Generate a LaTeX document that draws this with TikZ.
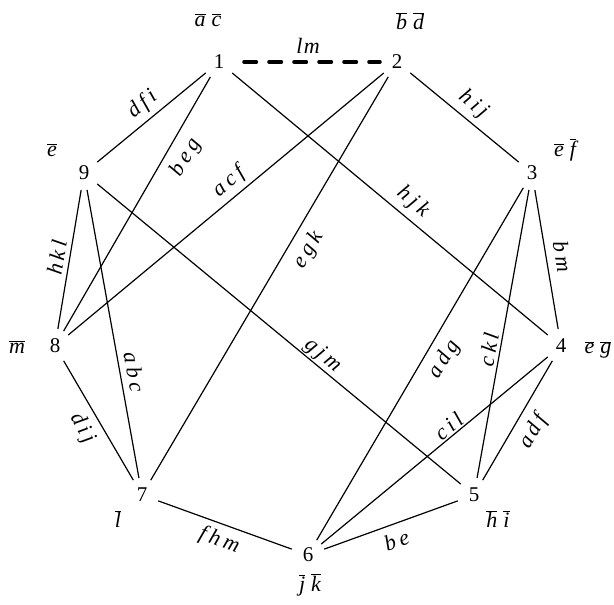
\documentclass[tikz,border=0pt]{standalone}
\usepackage{fontspec}
\setmainfont{Liberation Serif}
\newcommand\ob[1]{$\overline{\mbox{\itshape #1}}$}
\newcommand\lsp{\kern4pt}
\newcommand\bsp{\kern6pt}
\begin{document}
\begin{tikzpicture}[x=1pt,y=-1pt,
  num/.style={circle,minimum size=34pt,inner sep=0pt,font=\fontsize{21}{21}\selectfont},
  lab/.style={font=\fontsize{22}{22}\selectfont\itshape, inner sep=0pt},
  barlab/.style={font=\fontsize{22}{22}\selectfont, inner sep=0pt},
  edge/.style={line width=1.2pt},
  dashedge/.style={line width=4pt, dash pattern=on 12pt off 13pt, line cap=round}]
\useasboundingbox (0,0) rectangle (614,605);
% vertices
\node[num] (n1) at (219,62) {1};
\node[num] (n2) at (397,62) {2};
\node[num] (n3) at (532,173) {3};
\node[num] (n4) at (561,346) {4};
\node[num] (n5) at (474,495) {5};
\node[num] (n6) at (308,555) {6};
\node[num] (n7) at (142,495) {7};
\node[num] (n8) at (55,346) {8};
\node[num] (n9) at (84,173) {9};
% vertex labels
\node[barlab] (b1) at (208,20) {\ob{a}\bsp\ob{c}};
\node[barlab] (b2) at (410,21) {\ob{b}\bsp\ob{d}};
\node[barlab] (b3) at (565,150) {\ob{e}\bsp\ob{f}};
\node[barlab] (b4) at (598,350) {\ob{e}\bsp\ob{g}};
\node[barlab] (b5) at (498,519) {\ob{h}\bsp\ob{i}};
\node[barlab] (b6) at (310,585) {\ob{j}\bsp\ob{k}};
\node[barlab] (b7) at (118,519) {\ob{l}};
\node[barlab] (b8) at (17,347) {\ob{m}};
\node[barlab] (b9) at (52,150) {\ob{e}};
% edges
\draw[dashedge, shorten <=8pt] (n1) -- node[lab,above=7pt]{l\kern1.5pt m} (n2);
\draw[edge] (n2) -- node[lab,sloped,above=5pt,pos=0.49]{h\lsp i\lsp j} (n3);
\draw[edge] (n3) -- node[lab,sloped,above=8pt,pos=0.50]{b\lsp m} (n4);
\draw[edge] (n5) -- node[lab,sloped,below=9pt,pos=0.49]{a\lsp d\lsp f} (n4);
\draw[edge] (n6) -- node[lab,sloped,below=8pt,pos=0.50]{b\lsp e} (n5);
\draw[edge] (n7) -- node[lab,sloped,below=6pt,pos=0.50]{f\lsp h\lsp m} (n6);
\draw[edge] (n8) -- node[lab,sloped,below=7pt,pos=0.49]{d\lsp i\lsp j} (n7);
\draw[edge] (n8) -- node[lab,sloped,above=4.7pt,pos=0.50]{h\lsp k\lsp l} (n9);
\draw[edge] (n9) -- node[lab,sloped,above=5pt,pos=0.51]{d\lsp f\lsp i} (n1);
\draw[edge] (n8) -- node[lab,sloped,below=9pt,pos=0.72]{b\lsp e\lsp g} (n1);
\draw[edge] (n8) -- node[lab,sloped,above=4.3pt,pos=0.54]{a\lsp c\lsp f} (n2);
\draw[edge] (n7) -- node[lab,sloped,below=9pt,pos=0.595]{e\lsp g\lsp k} (n2);
\draw[edge] (n1) -- node[lab,sloped,above=5.6pt,pos=0.54]{h\lsp j\lsp k} (n4);
\draw[edge] (n9) -- node[lab,sloped,above=1pt,pos=0.60]{g\lsp j\lsp m} (n5);
\draw[edge] (n9) -- node[lab,sloped,above=6pt,pos=0.64]{a\lsp b\lsp c} (n7);
\draw[edge] (n6) -- node[lab,sloped,below=8.5pt,pos=0.54]{a\lsp d\lsp g} (n3);
\draw[edge] (n5) -- node[lab,sloped,above=3pt,pos=0.44]{c\lsp k\lsp l} (n3);
\draw[edge] (n6) -- node[lab,sloped,above=1.5pt,pos=0.59]{c\lsp i\lsp l} (n4);
\end{tikzpicture}
\end{document}
